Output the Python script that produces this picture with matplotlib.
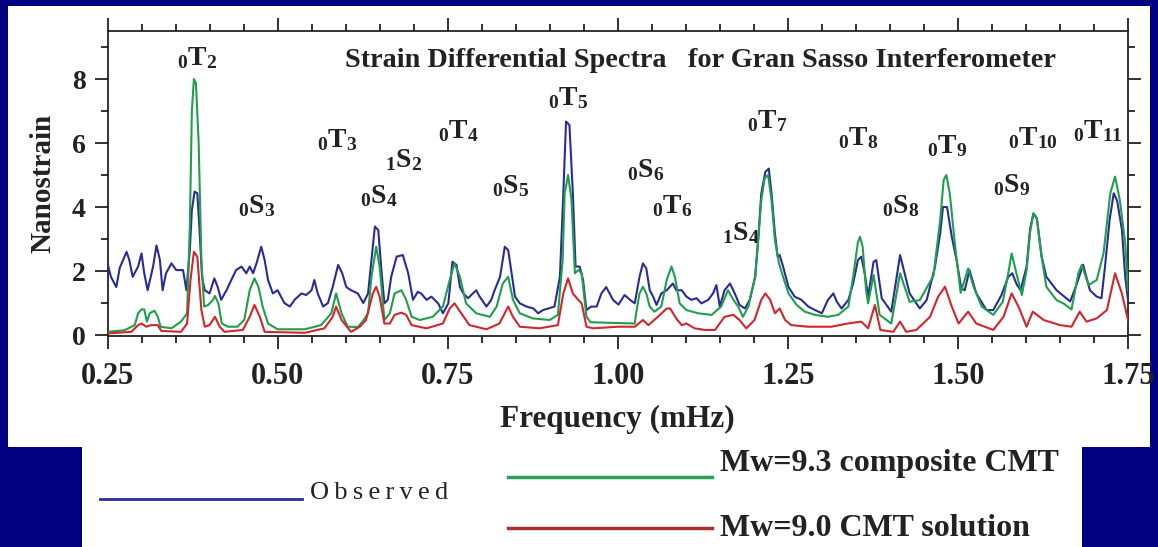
import matplotlib
matplotlib.use("Agg")
import matplotlib.pyplot as plt
from matplotlib.patches import Rectangle
from matplotlib.lines import Line2D
from matplotlib.ticker import MultipleLocator, FormatStrFormatter

plt.rcParams['font.family'] = ['Liberation Serif', 'DejaVu Serif']
plt.rcParams['font.weight'] = 'bold'
plt.rcParams['mathtext.fontset'] = 'custom'
plt.rcParams['mathtext.rm'] = 'Liberation Serif:bold'
plt.rcParams['mathtext.it'] = 'Liberation Serif:bold'
plt.rcParams['mathtext.bf'] = 'Liberation Serif:bold'

# ---------------- data ----------------
obs_f = [0.250, 0.255, 0.263, 0.268, 0.278, 0.282, 0.287, 0.295, 0.300, 0.304,
         0.309, 0.317, 0.322, 0.327, 0.331, 0.336, 0.344, 0.351, 0.361, 0.366,
         0.371, 0.374, 0.378, 0.382, 0.385, 0.389, 0.393, 0.400, 0.407, 0.412,
         0.417, 0.425, 0.432, 0.439, 0.447, 0.454, 0.459, 0.464, 0.469, 0.476,
         0.481, 0.486, 0.493, 0.500, 0.510, 0.518, 0.525, 0.535, 0.542, 0.550,
         0.554, 0.559, 0.567, 0.574, 0.581, 0.589, 0.595, 0.601, 0.608, 0.618,
         0.626, 0.633, 0.638, 0.643, 0.648, 0.653, 0.657, 0.662, 0.667, 0.675,
         0.684, 0.692, 0.699, 0.706, 0.711, 0.719, 0.726, 0.736, 0.743, 0.751,
         0.757, 0.763, 0.768, 0.773, 0.780, 0.787, 0.792, 0.797, 0.807, 0.814,
         0.819, 0.827, 0.834, 0.839, 0.844, 0.849, 0.856, 0.866, 0.876, 0.883,
         0.890, 0.898, 0.907, 0.915, 0.920, 0.924, 0.929, 0.934, 0.938, 0.944,
         0.949, 0.954, 0.961, 0.969, 0.976, 0.983, 0.993, 1.001, 1.010, 1.018,
         1.025, 1.032, 1.037, 1.042, 1.047, 1.052, 1.057, 1.064, 1.072, 1.081,
         1.086, 1.094, 1.101, 1.108, 1.116, 1.123, 1.133, 1.140, 1.145, 1.150,
         1.157, 1.165, 1.172, 1.179, 1.187, 1.194, 1.202, 1.206, 1.211, 1.217,
         1.222, 1.226, 1.231, 1.235, 1.238, 1.243, 1.251, 1.260, 1.270, 1.280,
         1.290, 1.300, 1.309, 1.317, 1.322, 1.329, 1.339, 1.346, 1.353, 1.358,
         1.363, 1.368, 1.376, 1.380, 1.388, 1.402, 1.415, 1.429, 1.444, 1.454,
         1.466, 1.474, 1.478, 1.484, 1.491, 1.498, 1.505, 1.510, 1.517, 1.527,
         1.542, 1.552, 1.564, 1.574, 1.580, 1.586, 1.592, 1.601, 1.606, 1.611,
         1.616, 1.623, 1.630, 1.645, 1.665, 1.675, 1.684, 1.694, 1.704, 1.711,
         1.716, 1.723, 1.729, 1.734, 1.741, 1.746, 1.750]
obs_v = [2.24, 1.82, 1.50, 2.10, 2.60, 2.35, 1.82, 2.14, 2.55, 1.93,
         1.40, 2.14, 2.80, 2.35, 1.40, 1.93, 2.24, 2.03, 2.03, 1.40,
         2.65, 3.90, 4.48, 4.43, 3.40, 1.80, 1.40, 1.30, 1.77, 1.50,
         1.10, 1.40, 1.72, 2.03, 2.14, 1.93, 2.14, 1.93, 2.24, 2.76,
         2.34, 1.72, 1.30, 1.40, 1.00, 0.89, 1.10, 1.30, 1.25, 1.40,
         1.72, 1.30, 0.89, 1.00, 1.50, 2.19, 1.93, 1.50, 1.40, 1.30,
         1.00, 1.30, 2.34, 3.39, 3.28, 1.93, 0.99, 1.10, 1.82, 2.45,
         2.50, 1.93, 1.10, 1.35, 1.30, 1.10, 1.20, 0.99, 0.68, 0.99,
         2.29, 2.19, 1.50, 1.30, 1.15, 1.30, 1.40, 1.20, 0.89, 1.10,
         1.40, 1.82, 2.76, 2.65, 1.93, 1.20, 0.99, 0.89, 0.83, 0.68,
         0.78, 0.83, 0.89, 1.82, 4.43, 6.67, 6.56, 4.43, 2.14, 2.14,
         1.72, 0.78, 0.89, 0.89, 1.30, 1.50, 1.10, 0.95, 1.25, 1.10,
         0.99, 1.82, 2.24, 2.08, 1.40, 1.20, 0.94, 1.30, 1.40, 1.61,
         1.40, 1.40, 1.20, 1.10, 1.15, 0.99, 1.10, 1.30, 1.56, 0.89,
         1.40, 1.61, 1.30, 0.94, 0.83, 1.10, 1.82, 2.86, 4.43, 5.10,
         5.20, 4.43, 3.18, 2.45, 2.50, 2.14, 1.50, 1.20, 1.10, 0.89,
         0.78, 0.68, 1.10, 1.30, 1.04, 0.83, 1.10, 1.61, 2.34, 2.45,
         1.93, 1.20, 2.29, 2.34, 1.15, 0.73, 2.50, 1.30, 0.83, 1.09,
         2.10, 3.18, 4.00, 4.00, 3.07, 2.34, 1.45, 1.40, 2.03, 1.30,
         0.78, 0.78, 1.25, 1.82, 1.93, 1.60, 1.40, 2.14, 3.30, 3.80,
         3.65, 2.45, 1.82, 1.40, 1.05, 1.61, 2.20, 1.40, 1.20, 1.15,
         2.10, 3.60, 4.43, 4.20, 3.30, 1.80, 1.10]

c93_f = [0.250, 0.275, 0.290, 0.295, 0.300, 0.304, 0.308, 0.312, 0.319, 0.324,
         0.328, 0.344, 0.358, 0.367, 0.371, 0.374, 0.377, 0.380, 0.384, 0.388,
         0.392, 0.398, 0.405, 0.408, 0.413, 0.418, 0.427, 0.441, 0.451, 0.459,
         0.466, 0.472, 0.478, 0.486, 0.500, 0.540, 0.564, 0.579, 0.586, 0.594,
         0.603, 0.618, 0.626, 0.633, 0.638, 0.645, 0.650, 0.657, 0.665, 0.672,
         0.682, 0.689, 0.697, 0.709, 0.728, 0.743, 0.753, 0.760, 0.768, 0.777,
         0.792, 0.812, 0.822, 0.831, 0.839, 0.846, 0.856, 0.875, 0.900, 0.912,
         0.919, 0.922, 0.927, 0.932, 0.937, 0.942, 0.947, 0.954, 0.960, 1.025,
         1.027, 1.032, 1.037, 1.042, 1.047, 1.054, 1.064, 1.072, 1.079, 1.084,
         1.091, 1.101, 1.118, 1.138, 1.152, 1.162, 1.170, 1.177, 1.184, 1.192,
         1.202, 1.206, 1.211, 1.216, 1.221, 1.226, 1.231, 1.237, 1.243, 1.251,
         1.263, 1.275, 1.290, 1.309, 1.324, 1.339, 1.346, 1.353, 1.356, 1.360,
         1.365, 1.368, 1.376, 1.385, 1.402, 1.415, 1.429, 1.444, 1.464, 1.474,
         1.479, 1.483, 1.488, 1.496, 1.504, 1.515, 1.523, 1.535, 1.552, 1.566,
         1.574, 1.579, 1.586, 1.594, 1.601, 1.606, 1.611, 1.616, 1.623, 1.630,
         1.645, 1.655, 1.667, 1.677, 1.682, 1.692, 1.704, 1.714, 1.724, 1.731,
         1.738, 1.746, 1.750]
c93_v = [0.10, 0.15, 0.31, 0.68, 0.80, 0.80, 0.42, 0.68, 0.76, 0.57,
         0.26, 0.21, 0.42, 0.68, 3.40, 7.00, 8.00, 7.86, 6.00, 2.34,
         0.89, 0.94, 1.10, 1.22, 0.99, 0.36, 0.26, 0.26, 0.47, 1.40,
         1.77, 1.50, 0.89, 0.36, 0.18, 0.18, 0.31, 0.68, 1.30, 0.68,
         0.26, 0.25, 0.45, 0.68, 1.82, 2.76, 2.14, 0.47, 0.68, 1.30,
         1.40, 1.10, 0.57, 0.47, 0.57, 0.89, 1.72, 2.24, 1.82, 0.99,
         0.68, 0.57, 0.89, 1.61, 1.82, 1.10, 0.68, 0.52, 0.47, 0.63,
         2.34, 4.43, 5.00, 4.22, 1.93, 2.03, 1.93, 0.57, 0.40, 0.36,
         0.68, 1.30, 1.51, 1.30, 0.89, 0.73, 0.89, 1.72, 2.14, 1.82,
         0.99, 0.78, 0.68, 0.63, 0.89, 1.40, 1.10, 0.89, 0.57, 0.89,
         1.82, 2.86, 4.22, 4.90, 5.00, 4.22, 2.97, 2.24, 1.82, 1.30,
         0.94, 0.73, 0.63, 0.57, 0.63, 0.89, 1.82, 2.90, 3.07, 2.76,
         1.40, 0.99, 1.88, 0.63, 0.36, 1.93, 1.04, 1.09, 1.85, 3.60,
         4.84, 5.00, 4.43, 2.76, 1.32, 2.08, 1.51, 0.89, 0.63, 1.04,
         1.93, 2.55, 1.93, 1.25, 2.03, 3.20, 3.80, 3.65, 2.45, 1.51,
         1.09, 0.99, 0.80, 1.93, 2.19, 1.56, 1.72, 2.55, 4.43, 4.95,
         4.22, 2.86, 1.40]

c90_f = [0.250, 0.285, 0.295, 0.300, 0.307, 0.314, 0.324, 0.329, 0.358, 0.367,
         0.372, 0.377, 0.382, 0.388, 0.393, 0.400, 0.408, 0.415, 0.422, 0.449,
         0.459, 0.466, 0.474, 0.481, 0.540, 0.569, 0.581, 0.586, 0.594, 0.608,
         0.621, 0.630, 0.640, 0.645, 0.650, 0.657, 0.665, 0.672, 0.682, 0.689,
         0.697, 0.719, 0.743, 0.753, 0.760, 0.770, 0.782, 0.807, 0.826, 0.839,
         0.846, 0.856, 0.885, 0.912, 0.920, 0.927, 0.934, 0.942, 0.947, 0.954,
         0.964, 1.000, 1.025, 1.037, 1.045, 1.059, 1.072, 1.077, 1.086, 1.094,
         1.101, 1.113, 1.128, 1.143, 1.157, 1.170, 1.179, 1.189, 1.201, 1.211,
         1.217, 1.224, 1.231, 1.238, 1.246, 1.255, 1.280, 1.314, 1.338, 1.358,
         1.368, 1.378, 1.386, 1.405, 1.415, 1.424, 1.439, 1.459, 1.471, 1.481,
         1.491, 1.501, 1.515, 1.527, 1.552, 1.567, 1.579, 1.589, 1.601, 1.610,
         1.626, 1.650, 1.667, 1.679, 1.689, 1.704, 1.719, 1.731, 1.741, 1.750]
c90_v = [0.05, 0.10, 0.31, 0.36, 0.26, 0.31, 0.31, 0.13, 0.10, 0.36,
         1.72, 2.60, 2.45, 0.78, 0.26, 0.31, 0.57, 0.26, 0.10, 0.16,
         0.57, 0.94, 0.57, 0.10, 0.07, 0.21, 0.57, 0.89, 0.47, 0.10,
         0.26, 0.47, 1.30, 1.51, 1.20, 0.36, 0.36, 0.63, 0.70, 0.63,
         0.31, 0.21, 0.36, 0.83, 0.99, 0.68, 0.31, 0.18, 0.36, 0.89,
         0.57, 0.26, 0.21, 0.31, 1.30, 1.77, 1.30, 1.10, 0.99, 0.26,
         0.21, 0.26, 0.26, 0.47, 0.31, 0.57, 0.83, 0.83, 0.52, 0.31,
         0.36, 0.21, 0.16, 0.16, 0.57, 0.63, 0.47, 0.21, 0.47, 1.10,
         1.30, 1.10, 0.68, 0.83, 0.47, 0.31, 0.26, 0.26, 0.36, 0.42,
         0.21, 0.94, 0.16, 0.10, 0.42, 0.10, 0.16, 0.57, 1.20, 1.51,
         0.89, 0.36, 0.73, 0.36, 0.16, 0.57, 1.30, 0.89, 0.26, 0.73,
         0.47, 0.31, 0.26, 0.73, 0.42, 0.52, 0.78, 1.93, 1.30, 0.47]

mode_labels = [r'${}_0T_2$', r'${}_0S_3$', r'${}_0T_3$', r'${}_0S_4$', r'${}_1S_2$',
               r'${}_0T_4$', r'${}_0S_5$', r'${}_0T_5$', r'${}_0S_6$', r'${}_0T_6$',
               r'${}_1S_4$', r'${}_0T_7$', r'${}_0T_8$', r'${}_0S_8$', r'${}_0T_9$',
               r'${}_0S_9$', r'${}_0T_{10}$', r'${}_0T_{11}$']
mode_f = [0.3515, 0.4412, 0.5574, 0.6206, 0.6574, 0.7353, 0.8147, 0.8971, 1.0132,
          1.0500, 1.1529, 1.1897, 1.3235, 1.3882, 1.4544, 1.5515, 1.5735, 1.6691]
mode_v = [8.44, 3.81, 5.88, 4.13, 5.25, 6.16, 4.44, 7.19, 4.94,
          3.81, 2.97, 6.47, 5.94, 3.81, 5.69, 4.47, 5.94, 6.16]

x_ticks = [0.25, 0.50, 0.75, 1.00, 1.25, 1.50, 1.75]
y_ticks = [0, 2, 4, 6, 8]

series_names = ['O\u2009b\u2009s\u2009e\u2009r\u2009v\u2009e\u2009d',
                'Mw=9.3 composite CMT', 'Mw=9.0 CMT solution']

# ---------------- figure ----------------
W, H = 1158, 547
fig = plt.figure(figsize=(W / 100, H / 100), dpi=100)
fig.patch.set_facecolor('#000080')

def fx(px):
    return px / W

def fy(py):
    return 1 - py / H

# white panels (behind everything)
fig.patches.append(Rectangle((fx(8), fy(447)), fx(1150) - fx(8), fy(6) - fy(447),
                             transform=fig.transFigure, facecolor='white',
                             edgecolor='none', zorder=-10))
fig.patches.append(Rectangle((fx(82), 0), fx(1082) - fx(82), fy(446),
                             transform=fig.transFigure, facecolor='white',
                             edgecolor='none', zorder=-10))

ax = fig.add_axes([fx(107.5), fy(336), fx(1128) - fx(107.5), fy(31) - fy(336)])
ax.set_facecolor('white')
ax.set_zorder(1)

blue = '#2b2b98'
green = '#1f9e4c'
red = '#d1262c'

ax.plot(obs_f, obs_v, color=blue, lw=1.5, zorder=3)
ax.plot(c93_f, c93_v, color=green, lw=1.5, zorder=4)
ax.plot(c90_f, c90_v, color=red, lw=1.5, zorder=5)

ax.set_xlim(0.25, 1.75)
ax.set_ylim(-0.03, 9.5)
ax.set_xticks(x_ticks)
ax.xaxis.set_major_formatter(FormatStrFormatter('%.2f'))
ax.xaxis.set_minor_locator(MultipleLocator(0.05))
ax.set_yticks(y_ticks)
ax.yaxis.set_minor_locator(MultipleLocator(1))

for sp in ax.spines.values():
    sp.set_linewidth(1.3)
    sp.set_color('#222222')

ax.tick_params(which='both', direction='out', top=True, right=True,
               color='#222222', width=1.3)
ax.tick_params(which='major', length=9.5)
ax.tick_params(which='minor', length=5)
ax.tick_params(axis='x', which='major', labelsize=22, pad=9)
ax.tick_params(axis='y', which='major', labelsize=20, pad=6)
for lab in ax.get_xticklabels() + ax.get_yticklabels():
    lab.set_fontweight('bold')
    lab.set_color('#222222')

ax.set_xlabel('Frequency (mHz)', fontsize=22.5, fontweight='bold', color='#222222', labelpad=10)
ax.set_ylabel('Nanostrain', fontsize=21, fontweight='bold', color='#222222', labelpad=11)

ax.text(0.5985, 8.375, 'Strain Differential Spectra   for Gran Sasso Interferometer',
        fontsize=20.3, fontweight='bold', color='#222222', ha='left', va='baseline')

for lab, f, v in zip(mode_labels, mode_f, mode_v):
    ax.text(f, v, lab, fontsize=20, color='#222222', ha='left', va='baseline')

# legend
fig.add_artist(Line2D([fx(100), fx(302)], [fy(499), fy(499)], transform=fig.transFigure,
                      color=blue, lw=2))
fig.text(fx(310), fy(493), series_names[0], fontsize=19, fontweight='normal',
         color='#222222', ha='left', va='center')
fig.add_artist(Line2D([fx(508), fx(712)], [fy(477), fy(477)], transform=fig.transFigure,
                      color='#2e9e5e', lw=2.5))
fig.text(fx(720), fy(464), series_names[1], fontsize=23, fontweight='bold',
         color='#222222', ha='left', va='center')
fig.add_artist(Line2D([fx(508), fx(712)], [fy(528), fy(528)], transform=fig.transFigure,
                      color='#a83232', lw=2.5))
fig.text(fx(720), fy(528), series_names[2], fontsize=23, fontweight='bold',
         color='#222222', ha='left', va='center')

fig.savefig('out.png', dpi=100, facecolor=fig.get_facecolor())
